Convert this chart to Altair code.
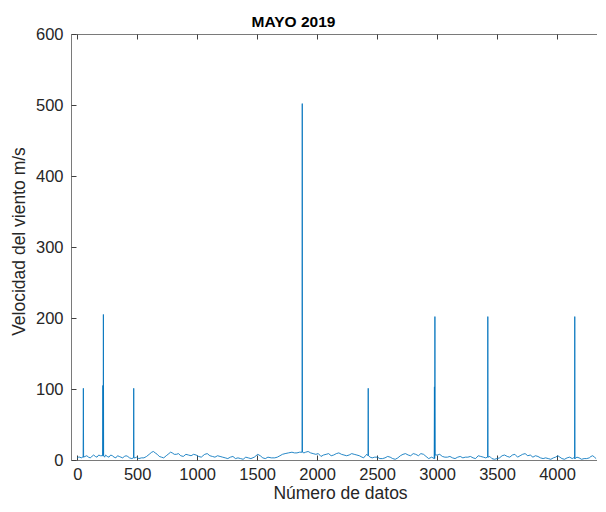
import altair as alt
import pandas as pd

# Baseline wind-speed readings (index, value)
base_idx = [0, 22, 45, 80, 108, 137, 165, 193, 236, 265, 293, 322, 350, 379, 407, 436,
            493, 535, 578, 621, 650, 684, 721, 764, 792, 826, 863, 906, 949, 991, 1034,
            1063, 1106, 1148, 1191, 1234, 1277, 1319, 1362, 1405, 1448, 1505, 1547, 1590,
            1647, 1690, 1733, 1790, 1832, 1904, 1946, 1989, 2032, 2075, 2117, 2160, 2203,
            2246, 2288, 2331, 2374, 2402, 2459, 2502, 2545, 2588, 2630, 2673, 2716, 2759,
            2801, 2844, 2887, 2930, 3001, 3044, 3086, 3129, 3172, 3215, 3257, 3300, 3343,
            3386, 3457, 3500, 3542, 3585, 3628, 3671, 3713, 3756, 3799, 3841, 3884, 3927,
            3970, 4007, 4041, 4084, 4127, 4184, 4226, 4269, 4298, 4326]
base_vel = [3, 4, 4, 6, 3, 7, 4, 6, 7, 4, 6, 3, 5, 3, 6, 3,
            4, 3, 5, 11, 10, 5, 3, 9, 10, 8, 6, 8, 6, 7, 4,
            8, 6, 4, 5, 3, 4, 2, 2, 4, 2, 8, 3, 4,
            3, 6, 9, 11, 10, 11, 10, 8, 5, 8, 6, 9, 8,
            6, 9, 7, 4, 6, 3, 4, 2, 5, 2, 3, 8, 7,
            9, 6, 8, 2, 7, 5, 4, 3, 4, 3, 4, 3, 6,
            4, 2, 2, 6, 5, 7, 4, 8, 6, 4, 5, 2, 2,
            3, 6, 2, 3, 2, 3, 2, 3, 6, 2]

# Finer wiggles between the readings above
wig_idx = [11, 33, 65, 94, 122, 151, 179, 228, 250, 279, 307, 336, 364, 393, 421, 455, 482,
           514, 556, 600, 635, 667, 702, 742, 778, 809, 844, 884, 927, 970, 1012, 1048,
           1084, 1127, 1170, 1212, 1255, 1298, 1340, 1383, 1426, 1476, 1526, 1568, 1618,
           1668, 1711, 1761, 1811, 1853, 1890, 1925, 1967, 2010, 2053, 2096, 2138, 2181,
           2224, 2267, 2309, 2352, 2388, 2415, 2442, 2480, 2523, 2566, 2609, 2651, 2694,
           2737, 2780, 2822, 2865, 2908, 2955, 3022, 3065, 3107, 3150, 3193, 3236, 3278,
           3321, 3364, 3405, 3440, 3478, 3521, 3563, 3606, 3649, 3692, 3734, 3777, 3820,
           3862, 3905, 3948, 3988, 4024, 4062, 4105, 4137, 4166, 4205, 4247, 4283, 4312]
wig_vel = [4, 3, 5, 4, 5, 5, 7, 4, 5, 7, 4, 6, 4, 5, 5, 2, 3,
           2, 3, 8, 12, 8, 4, 6, 11, 8, 9, 5, 7, 8, 5, 6,
           9, 5, 6, 4, 2, 5, 3, 1, 3, 4, 6, 2, 3,
           4, 8, 10, 10, 11, 10, 12, 9, 9, 7, 9, 7, 10,
           7, 7, 8, 6, 3, 8, 4, 4, 2, 3, 4, 1, 6,
           9, 6, 8, 9, 5, 4, 8, 4, 5, 2, 5, 4, 5,
           2, 5, 3, 5, 1, 3, 7, 4, 8, 6, 9, 7, 6,
           3, 3, 1, 4, 4, 1, 4, 3, 4, 1, 2, 5, 4]

# Isolated spikes (index, peak value, level around the spike)
spike_idx = [51, 214, 218, 471, 1876, 2426, 2978, 2982, 3423, 4148]
spike_vel = [101, 105, 205, 101, 502, 101, 103, 202, 202, 202]
spike_foot = [4, 6, 6, 3, 11, 6, 2, 7, 4, 2]

x_ticks = [0, 500, 1000, 1500, 2000, 2500, 3000, 3500, 4000]
y_ticks = [0, 100, 200, 300, 400, 500, 600]

rows = list(zip(base_idx, base_vel)) + list(zip(wig_idx, wig_vel))
for i, v, f in zip(spike_idx, spike_vel, spike_foot):
    rows += [(i - 2, f), (i, v), (i + 2, f)]
df = pd.DataFrame(rows, columns=["n", "v"]).sort_values("n")

xscale = alt.Scale(domain=[-52, 4400], nice=False, zero=False)
yscale = alt.Scale(domain=[0, 600], nice=False)

line = alt.Chart(df).mark_line(color="#0072BD", strokeWidth=0.85, clip=True).encode(
    x=alt.X("n:Q", scale=xscale,
            axis=alt.Axis(orient="bottom", values=x_ticks, format="d", title="Número de datos",
                          domain=False, grid=False, tickSize=5, offset=-5, labelPadding=6,
                          titleX=269, titleY=38, titleBaseline="middle")),
    y=alt.Y("v:Q", scale=yscale,
            axis=alt.Axis(orient="left", values=y_ticks, format="d",
                          title="Velocidad del viento m/s",
                          domain=False, grid=False, tickSize=5, offset=-5, labelPadding=8,
                          titleX=-57, titleY=207, titleBaseline="middle")),
    order="n:Q",
)

frame = alt.Chart(df).mark_line(opacity=0).encode(
    x=alt.X("n:Q", scale=xscale,
            axis=alt.Axis(orient="top", values=x_ticks, labels=False, title="MAYO 2019",
                          titleFontWeight="bold", titleFontSize=15.5, titleColor="#000000",
                          titleX=222, titleY=-13, titleBaseline="alphabetic",
                          domain=False, grid=False, tickSize=5, offset=-5)),
    y=alt.Y("v:Q", scale=yscale,
            axis=alt.Axis(orient="right", values=y_ticks, labels=False, title="",
                          domain=False, grid=False, tickSize=5, offset=-5)),
)

chart = alt.layer(line, frame).resolve_axis(x="independent", y="independent").properties(
    width=534,
    height=426,
    autosize=alt.AutoSizeParams(type="none"),
    padding={"left": 63, "top": 26, "right": -8, "bottom": 44},
    background="white",
).configure_view(
    stroke="#7a7a7a", strokeWidth=1
).configure_axis(
    labelFont="Liberation Sans", labelFontSize=16.5, labelColor="#262626",
    titleFont="Liberation Sans", titleFontSize=17.5, titleColor="#262626",
    titleFontWeight="normal", tickColor="#404040", tickWidth=1
)

chart.save("out.html", embed_options={"renderer": "svg", "actions": False})
